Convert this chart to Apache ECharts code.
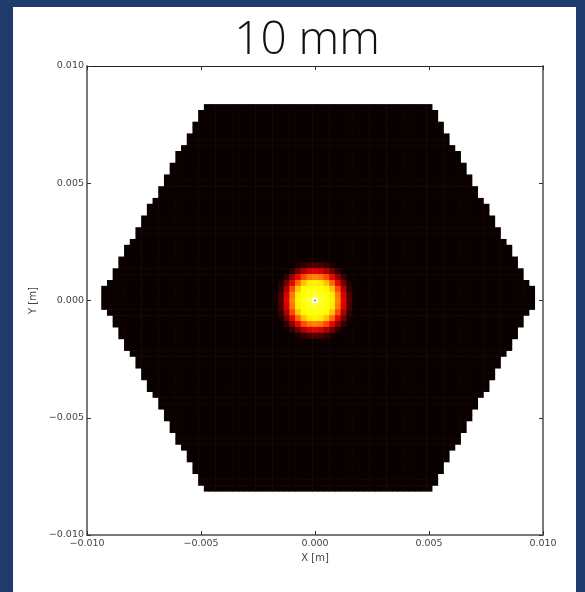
<!DOCTYPE html>
<html>
<head>
<meta charset="utf-8">
<script src="https://cdn.jsdelivr.net/npm/echarts@6/dist/echarts.min.js"></script>
<style>
  html, body { margin: 0; padding: 0; background: #1f3a6c; width: 585px; height: 592px; overflow: hidden; }
  #panel { position: absolute; left: 13px; top: 7px; width: 563px; height: 585px; background: #ffffff; }
</style>
</head>
<body>
<div id="panel"></div>
<script>
// Beam intensity on a hexagonal aperture, sampled on a square grid (metres).
const titleText = '10 mm';
const xName = 'X [m]';
const yName = 'Y [m]';
const axisMin = -0.01;
const axisMax = 0.01;
const tickStep = 0.005;
const cellSize = 0.00025;

// Hexagon rows, top row index first; each entry is [first column, last column].
const topRow = 33;
const hexRowSpans = [
  [-19, 20], [-20, 21], [-20, 21], [-21, 22], [-21, 22], [-22, 23], [-22, 23], [-23, 24],
  [-24, 25], [-24, 25], [-25, 26], [-25, 26], [-26, 27], [-26, 27], [-27, 28], [-27, 28],
  [-28, 29], [-29, 30], [-29, 30], [-30, 31], [-30, 31], [-31, 32], [-31, 32], [-32, 33],
  [-33, 34], [-33, 34], [-34, 35], [-34, 35], [-35, 36], [-35, 36], [-36, 37], [-37, 38],
  [-37, 38], [-37, 38], [-37, 38], [-36, 37], [-35, 36], [-35, 36], [-34, 35], [-34, 35],
  [-33, 34], [-33, 34], [-32, 33], [-31, 32], [-31, 32], [-30, 31], [-30, 31], [-29, 30],
  [-29, 30], [-28, 29], [-27, 28], [-27, 28], [-26, 27], [-26, 27], [-25, 26], [-25, 26],
  [-24, 25], [-24, 25], [-23, 24], [-22, 23], [-22, 23], [-21, 22], [-21, 22], [-20, 21],
  [-20, 21], [-19, 20]
];

// Intensity level (percent) outside the focal spot.
const backgroundLevel = 1.5;

// Focal spot around the origin: rows +7 .. -7, columns -7 .. +7 (percent of peak).
const spotHalf = 7;
const spotLevels = [
  [1, 1, 1, 1, 1, 1, 2, 2, 2, 1, 1, 1, 1, 1, 1],
  [1, 1, 1, 1, 4, 7, 10, 11, 10, 7, 4, 1, 1, 1, 1],
  [1, 1, 2, 7, 16, 25, 31, 33, 31, 25, 16, 7, 2, 1, 1],
  [1, 1, 7, 20, 34, 47, 54, 56, 54, 47, 34, 20, 7, 1, 1],
  [1, 4, 16, 34, 52, 65, 72, 73, 72, 65, 52, 34, 16, 4, 1],
  [1, 7, 25, 47, 65, 74, 75, 76, 75, 74, 65, 47, 25, 7, 1],
  [2, 10, 31, 54, 72, 75, 78, 80, 78, 75, 72, 54, 31, 10, 2],
  [2, 11, 33, 56, 73, 76, 80, 90, 80, 76, 73, 56, 33, 11, 2],
  [2, 10, 31, 54, 72, 75, 78, 80, 78, 75, 72, 54, 31, 10, 2],
  [1, 7, 25, 47, 65, 74, 75, 76, 75, 74, 65, 47, 25, 7, 1],
  [1, 4, 16, 34, 52, 65, 72, 73, 72, 65, 52, 34, 16, 4, 1],
  [1, 1, 7, 20, 34, 47, 54, 56, 54, 47, 34, 20, 7, 1, 1],
  [1, 1, 2, 7, 16, 25, 31, 33, 31, 25, 16, 7, 2, 1, 1],
  [1, 1, 1, 1, 4, 7, 10, 11, 10, 7, 4, 1, 1, 1, 1],
  [1, 1, 1, 1, 1, 1, 2, 2, 2, 1, 1, 1, 1, 1, 1]
];

// Beam centre marker.
const centreMark = [0, 0];

// "hot" colour ramp, sampled at 9 evenly spaced levels.
const hotRamp = ['#000000', '#570000', '#af0000', '#ff0700', '#ff5c00', '#ffb100', '#ffff04', '#ffff82', '#ffffff'];

function spotValue(row, col) {
  const r = spotHalf - row;
  const c = col + spotHalf;
  if (r < 0 || r >= spotLevels.length || c < 0 || c >= spotLevels[0].length) return null;
  return spotLevels[r][c];
}

const cells = [];
hexRowSpans.forEach(function (span, i) {
  const row = topRow - i;
  for (let col = span[0]; col <= span[1]; col++) {
    const s = spotValue(row, col);
    cells.push([col * cellSize, row * cellSize, s === null ? backgroundLevel : Math.max(s, backgroundLevel)]);
  }
});

function tickLabel(v) {
  return v.toFixed(3).replace('-', '\u2212');
}

const labelStyle = { fontFamily: 'DejaVu Sans', fontSize: 9.5, color: '#444' };
const tickStyle = { inside: true, length: 4, lineStyle: { color: '#333' } };

const chart = echarts.init(document.getElementById('panel'), null, { renderer: 'canvas' });
chart.setOption({
  animation: false,
  title: {
    text: titleText,
    left: 289,
    top: 6,
    textAlign: 'center',
    textStyle: { fontFamily: 'Open Sans', fontWeight: 300, fontSize: 46, color: '#111' }
  },
  grid: { left: 74, right: 33, top: 59, bottom: 57 },
  visualMap: {
    show: false, type: 'continuous', min: 0, max: 100, dimension: 2, seriesIndex: 0,
    inRange: { color: hotRamp }
  },
  xAxis: [{
    type: 'value', min: axisMin, max: axisMax, interval: tickStep, position: 'bottom',
    name: xName, nameLocation: 'middle', nameGap: 13,
    nameTextStyle: { fontFamily: 'DejaVu Sans', fontSize: 10, color: '#444' },
    axisLine: { onZero: false, lineStyle: { color: '#7a7a7a', width: 2 } },
    axisTick: tickStyle,
    axisLabel: Object.assign({ margin: 4, formatter: tickLabel }, labelStyle),
    splitLine: { show: false }
  }, {
    type: 'value', min: axisMin, max: axisMax, interval: tickStep, position: 'top',
    axisLine: { onZero: false, lineStyle: { color: '#222', width: 1 } },
    axisTick: tickStyle,
    axisLabel: { show: false }, splitLine: { show: false }
  }],
  yAxis: [{
    type: 'value', min: axisMin, max: axisMax, interval: tickStep, position: 'left',
    name: yName, nameLocation: 'middle', nameGap: 42, nameRotate: 90,
    nameTextStyle: { fontFamily: 'DejaVu Sans', fontSize: 10, color: '#444' },
    axisLine: { onZero: false, lineStyle: { color: '#7a7a7a', width: 2 } },
    axisTick: tickStyle,
    axisLabel: Object.assign({ margin: 3, formatter: tickLabel }, labelStyle),
    splitLine: { show: false }
  }, {
    type: 'value', min: axisMin, max: axisMax, interval: tickStep, position: 'right',
    axisLine: { onZero: false, lineStyle: { color: '#7a7a7a', width: 2 } },
    axisTick: tickStyle,
    axisLabel: { show: false }, splitLine: { show: false }
  }],
  series: [{
    type: 'custom',
    coordinateSystem: 'cartesian2d',
    xAxisIndex: 0, yAxisIndex: 0,
    data: cells,
    encode: { x: 0, y: 1 },
    renderItem: function (params, api) {
      const x = api.value(0), y = api.value(1);
      const half = cellSize / 2;
      const p0 = api.coord([x - half, y + half]);
      const p1 = api.coord([x + half, y - half]);
      return {
        type: 'rect',
        shape: { x: p0[0], y: p0[1], width: p1[0] - p0[0] + 0.6, height: p1[1] - p0[1] + 0.6 },
        style: { fill: api.visual('color') }
      };
    }
  }, {
    type: 'scatter', xAxisIndex: 0, yAxisIndex: 0,
    data: [centreMark], symbol: 'rect', symbolSize: 5,
    itemStyle: { color: '#ffffff' }, z: 5
  }, {
    type: 'scatter', xAxisIndex: 0, yAxisIndex: 0,
    data: [centreMark], symbol: 'circle', symbolSize: 2,
    itemStyle: { color: '#3a5bd0' }, z: 6
  }]
});
</script>
</body>
</html>
